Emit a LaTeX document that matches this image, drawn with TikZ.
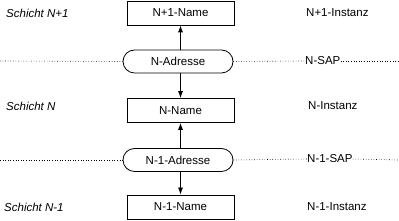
\documentclass[tikz,border=0pt]{standalone}
\usepackage{fontspec}
\setmainfont{Liberation Sans}
\usetikzlibrary{arrows.meta}
\begin{document}
\begin{tikzpicture}[x=1pt,y=1pt,
  every node/.style={font=\fontsize{11.5}{13}\selectfont, inner sep=0pt},
  namebox/.style={draw, line width=0.8pt, minimum width=107pt, minimum height=24pt},
  pill/.style={draw, line width=0.8pt, rounded corners=11.5pt, minimum width=110pt, minimum height=23pt},
  lefttext/.style={anchor=west, font=\fontsize{11.5}{13}\selectfont\itshape},
  righttext/.style={anchor=west},
  sapline/.style={dotted, line width=0.6pt},
  link/.style={line width=0.8pt, -{Latex[length=7pt,width=5pt]}}]
\useasboundingbox (0,0) rectangle (399,221);
% boxes
\node[namebox] (b1) at (180.5,208) {N+1-Name};
\node[namebox] (b2) at (180.5,110.5) {N-Name};
\node[namebox] (b3) at (180.5,14) {N-1-Name};
% pills
\node[pill] (p1) at (178,159.5) {N-Adresse};
\node[pill] (p2) at (178,61) {N-1-Adresse};
% left texts
\node[lefttext] (s1) at (6,208) {Schicht N+1};
\node[lefttext] (s2) at (6,115) {Schicht N};
\node[lefttext] (s3) at (4,14) {Schicht N-1};
% right texts
\node[righttext] (i1) at (306,208) {N+1-Instanz};
\node[righttext] (i2) at (308,115) {N-Instanz};
\node[righttext] (i3) at (307,14) {N-1-Instanz};
\node[righttext] (sap1) at (305,160) {N-SAP};
\node[righttext] (sap2) at (307,62) {N-1-SAP};
% dotted lines
\coordinate (l1) at (0,160);
\coordinate (r1) at (399,160);
\coordinate (l2) at (0,61);
\coordinate (r2) at (399,61);
\draw[sapline] (l1) -- (p1.west);
\draw[sapline] (p1.east) -- (sap1.west);
\draw[sapline] (sap1.east) -- (r1);
\draw[sapline] (l2) -- (p2.west);
\draw[sapline] (p2.east) -- (sap2.west);
\draw[sapline] (sap2.east) -- (r2);
% arrows
\draw[link] (p1.north -| b1.south) -- (b1.south);
\draw[link] (p1.south -| b2.north) -- (b2.north);
\draw[link] (p2.north -| b2.south) -- (b2.south);
\draw[link] (p2.south -| b3.north) -- (b3.north);
\end{tikzpicture}
\end{document}
